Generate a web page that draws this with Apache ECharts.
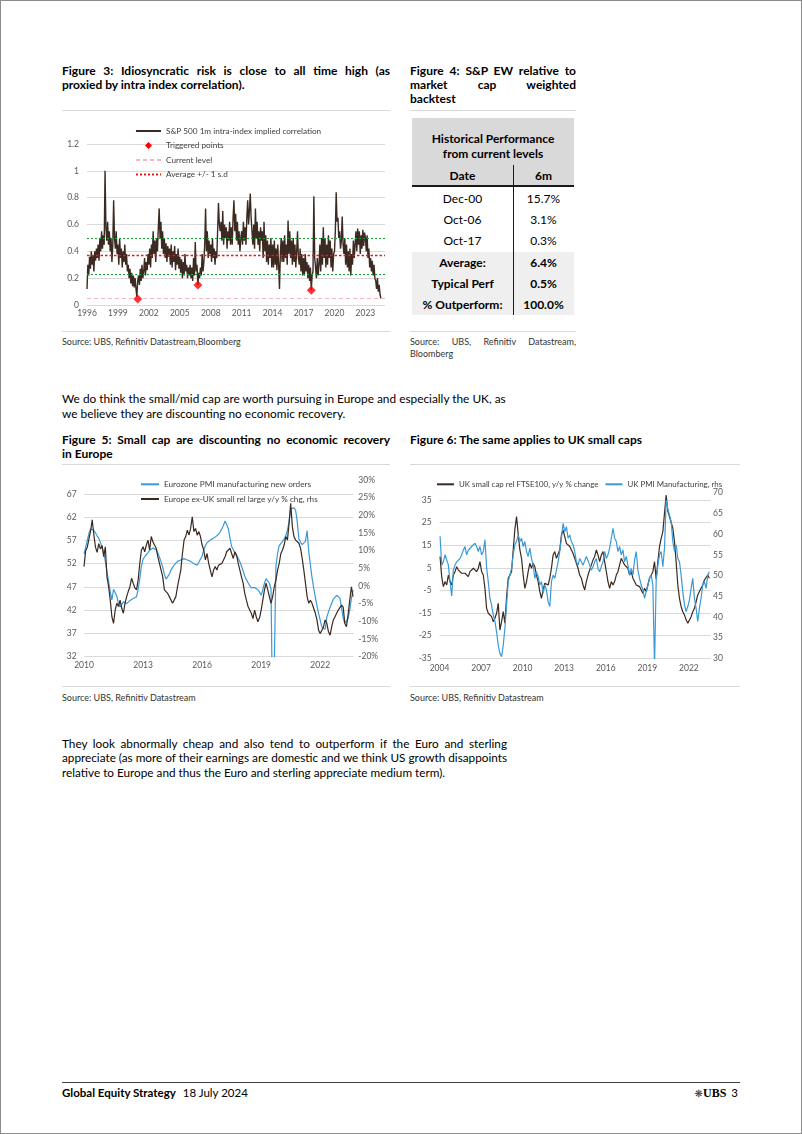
<!DOCTYPE html>
<html>
<head>
<meta charset="utf-8">
<script src="https://cdn.jsdelivr.net/npm/echarts@6/dist/echarts.min.js"></script>
<style>
html,body{margin:0;padding:0;background:#fff;}
#page{position:relative;width:802px;height:1134px;overflow:hidden;font-family:Lato,'Open Sans',sans-serif;color:#000;}
.abs{position:absolute;}
.line{white-space:nowrap;}
.just{text-align:justify;text-align-last:justify;white-space:normal;}
.t{font-weight:700;font-size:12px;line-height:14px;}
.rule{position:absolute;height:0;border-top:1px solid #d9d9d9;}
.src{font-size:9px;line-height:11.6px;color:#333;}
.p{font-size:11.75px;}
.chart{position:absolute;}
.cell{position:absolute;text-align:center;font-size:12px;white-space:nowrap;}
</style>
</head>
<body>
<div id="page">
  <div class="abs" style="left:0;top:0;width:800px;height:1132px;border:1px solid #8c8c8c;"></div>

  <!-- Figure 3 -->
  <div class="abs t" style="left:62px;top:64px;width:328px;">
    <div class="just">Figure 3: Idiosyncratic risk is close to all time high (as</div>
    <div class="line">proxied by intra index correlation).</div>
  </div>
  <div class="rule" style="left:62px;top:110px;width:328px;"></div>
  <div id="c3" class="chart" style="left:62px;top:114px;width:330px;height:216px;"></div>
  <div class="rule" style="left:62px;top:331px;width:328px;"></div>
  <div class="abs src line" style="left:62px;top:336px;">Source: UBS, Refinitiv Datastream,Bloomberg</div>

  <!-- Figure 4 -->
  <div class="abs t" style="left:410px;top:64px;width:166px;">
    <div class="just">Figure 4: S&amp;P EW relative to</div>
    <div class="just">market cap weighted</div>
    <div class="line">backtest</div>
  </div>
  <div class="rule" style="left:410px;top:110px;width:166px;"></div>
  <div id="tbl"></div>
  <div class="rule" style="left:410px;top:331px;width:166px;"></div>
  <div class="abs src" style="left:410px;top:336px;width:166px;">
    <div class="just">Source: UBS, Refinitiv Datastream,</div>
    <div class="line">Bloomberg</div>
  </div>

  <!-- Paragraph 1 -->
  <div class="abs p" style="left:62px;top:391px;line-height:15px;font-size:11.85px;">
    <div class="line">We do think the small/mid cap are worth pursuing in Europe and especially the UK, as</div>
    <div class="line">we believe they are discounting no economic recovery.</div>
  </div>

  <!-- Figure 5 -->
  <div class="abs t" style="left:62px;top:433px;width:328px;">
    <div class="just">Figure 5: Small cap are discounting no economic recovery</div>
    <div class="line">in Europe</div>
  </div>
  <div class="rule" style="left:62px;top:464px;width:328px;"></div>
  <div id="c5" class="chart" style="left:62px;top:466px;width:330px;height:218px;"></div>
  <div class="rule" style="left:62px;top:686px;width:328px;"></div>
  <div class="abs src line" style="left:62px;top:692px;">Source: UBS, Refinitiv Datastream</div>

  <!-- Figure 6 -->
  <div class="abs t line" style="left:410px;top:433px;">Figure 6: The same applies to UK small caps</div>
  <div class="rule" style="left:410px;top:464px;width:330px;"></div>
  <div id="c6" class="chart" style="left:410px;top:466px;width:332px;height:218px;"></div>
  <div class="rule" style="left:410px;top:686px;width:330px;"></div>
  <div class="abs src line" style="left:410px;top:692px;">Source: UBS, Refinitiv Datastream</div>

  <!-- Paragraph 2 -->
  <div class="abs p" style="left:62px;top:736.5px;width:445px;line-height:14.7px;">
    <div class="just">They look abnormally cheap and also tend to outperform if the Euro and sterling</div>
    <div class="just">appreciate (as more of their earnings are domestic and we think US growth disappoints</div>
    <div class="line">relative to Europe and thus the Euro and sterling appreciate medium term).</div>
  </div>

  <!-- Footer -->
  <div class="abs" style="left:62px;top:1082px;width:678px;height:0;border-top:1px solid #404040;"></div>
  <div class="abs line" style="left:62px;top:1086px;line-height:14px;font-size:11.5px;">
    <span style="font-weight:700;">Global Equity Strategy</span><span style="margin-left:7px;">18 July 2024</span>
  </div>
  <div class="abs line" style="right:64px;top:1086px;line-height:14px;font-size:11.5px;text-align:right;">
    <span style="font-family:'DejaVu Sans';font-size:10px;color:#333;">❋</span><span style="font-family:'Liberation Serif';font-weight:700;font-size:12px;">UBS</span><span style="margin-left:5px;">3</span>
  </div>
</div>

<script>
// ---------------- Figure 3 data ----------------
const corrStartYear = 1996;
const corrAxisSpan = 28.9;       // axis length in years from 1996
const corrLabel = 'S&P 500 1m intra-index implied correlation';
// monthly readings, one row per year (1996 ... 2024)
const corrValues = [
  0.12,0.30,0.22,0.36,0.27,0.40,0.30,0.37,0.25,0.40,0.33,0.42,
  0.35,0.45,0.33,0.50,0.40,0.55,0.42,0.52,0.45,1.00,0.58,0.48,
  0.62,0.45,0.55,0.40,0.50,0.32,0.45,0.78,0.50,0.42,0.55,0.38,
  0.45,0.30,0.50,0.35,0.42,0.28,0.40,0.32,0.45,0.30,0.38,0.25,
  0.30,0.20,0.27,0.16,0.24,0.14,0.22,0.13,0.20,0.12,0.06,0.18,
  0.22,0.15,0.27,0.18,0.30,0.20,0.25,0.35,0.22,0.32,0.26,0.38,
  0.30,0.42,0.28,0.45,0.35,0.55,0.38,0.48,0.32,0.50,0.40,0.58,
  0.72,0.50,0.62,0.42,0.55,0.38,0.50,0.35,0.46,0.32,0.44,0.36,
  0.42,0.30,0.45,0.28,0.40,0.32,0.44,0.26,0.38,0.30,0.42,0.27,
  0.36,0.24,0.34,0.20,0.32,0.22,0.38,0.25,0.30,0.20,0.28,0.22,
  0.30,0.20,0.28,0.18,0.35,0.22,0.47,0.25,0.30,0.15,0.24,0.20,
  0.28,0.22,0.38,0.25,0.32,0.45,0.72,0.40,0.55,0.35,0.48,0.38,
  0.45,0.32,0.50,0.35,0.42,0.30,0.40,0.35,0.55,0.76,0.60,0.55,
  0.62,0.48,0.70,0.45,0.60,0.50,0.58,0.42,0.55,0.48,0.62,0.45,
  0.58,0.45,0.65,0.78,0.55,0.68,0.48,0.62,0.45,0.55,0.40,0.50,
  0.55,0.45,0.62,0.48,0.58,0.45,0.65,0.78,0.60,0.70,0.83,0.65,
  0.55,0.45,0.60,0.42,0.72,0.50,0.62,0.45,0.55,0.40,0.58,0.48,
  0.55,0.35,0.62,0.40,0.52,0.32,0.48,0.30,0.45,0.35,0.50,0.28,
  0.45,0.28,0.48,0.30,0.42,0.26,0.45,0.30,0.12,0.38,0.50,0.32,
  0.48,0.32,0.52,0.35,0.45,0.30,0.63,0.38,0.55,0.35,0.48,0.30,
  0.50,0.32,0.45,0.28,0.40,0.55,0.35,0.30,0.42,0.25,0.38,0.22,
  0.35,0.22,0.38,0.25,0.32,0.20,0.30,0.18,0.28,0.11,0.22,0.25,
  0.81,0.35,0.28,0.20,0.35,0.22,0.30,0.45,0.25,0.50,0.30,0.58,
  0.35,0.50,0.28,0.45,0.30,0.52,0.35,0.48,0.28,0.42,0.25,0.38,
  0.40,0.55,0.84,0.62,0.65,0.50,0.55,0.42,0.48,0.66,0.45,0.38,
  0.50,0.30,0.45,0.28,0.40,0.25,0.42,0.22,0.38,0.30,0.48,0.35,
  0.45,0.55,0.40,0.57,0.45,0.55,0.38,0.52,0.42,0.56,0.44,0.54,
  0.50,0.40,0.52,0.35,0.42,0.28,0.35,0.25,0.33,0.22,0.30,0.20,
  0.18,0.12,0.20,0.10,0.15,0.08,0.05
];
const triggerDates = [2000.92, 2006.75, 2017.75];
const triggerValues = [0.045, 0.15, 0.11];
const currentLevel = 0.05;
const averageLevel = 0.37;
const sdUpper = 0.50;
const sdLower = 0.235;

// ---------------- Figure 4 data ----------------
const tableTitle = ['Historical Performance', 'from current levels'];
const tableHeader = ['Date', '6m'];
const perfDates = ['Dec-00', 'Oct-06', 'Oct-17'];
const perf6m = ['15.7%', '3.1%', '0.3%'];
const summaryLabels = ['Average:', 'Typical Perf', '% Outperform:'];
const summaryValues = ['6.4%', '0.5%', '100.0%'];

// ---------------- Figure 5 data ----------------
const fig5StartYear = 2010;
const fig5AxisSpan = 13.68;
const fig5PmiBase = 32;   // bottom of the left axis
const fig5PmiName = 'Eurozone PMI manufacturing new orders';
const fig5RelName = 'Europe ex-UK small rel large y/y % chg, rhs';
// monthly, Jan 2010 onwards
const ezPmiNewOrders = [
  54.1,55.5,57,58.5,59.5,59.7,59.2,58.6,58,57.5,56.6,55.5,
  54.5,52.5,50.3,48.2,46,44.2,46.5,46.8,45,43.4,42.7,43.2,
  43.8,43.6,43.4,43.8,44.1,44.3,44.5,44.7,44.9,46.5,48.8,51.5,
  53,53.5,53.8,54.4,54.9,55.3,55.4,55.4,55,54.3,53.4,52.4,
  51.2,49.7,48.7,48.8,49.7,50.6,51.2,51.7,52.1,52.5,52.7,52.8,
  53,53.1,53,52.8,52.6,52.5,52.3,52,51.8,51.7,52.3,53,
  53.6,55,55.9,56.5,56.9,57.1,57.3,57.5,57.7,58,58.4,58.8,
  59.1,60.2,61.2,60.8,59.5,57.5,55.7,55,54.2,53.7,53.2,52.4,
  51.5,50.4,49.3,48.6,47.9,47.3,46.8,46.7,46.9,46.8,46.4,45.9,
  45.2,46.4,47.8,48.8,48.6,47.8,46.5,18,30,51.5,54.2,55.9,
  56.3,56.8,57.3,58,59.2,61,63.8,64.1,64,63.5,61,57.3,
  56.6,56.1,56.3,56.8,59.1,54.6,51.8,49,46.8,44.8,43,41.3,
  39.8,38.4,38,37.9,40.5,41.6,42.6,43.5,44.4,44.8,45.2,45,
  44.6,42.5,40.3,39.2,39.1,40.2,42.1,44.5,46.3
];
const euSmallRelLarge = [
  5.5,10,11,11.5,15.5,18.7,14.5,11,9.5,12,10.5,11.5,
  8.3,11.1,2.6,-0.2,-4,-8.7,-10.6,-6.8,-4.9,-5.8,-4,-6.3,
  -7.7,-4.9,-3,-1.5,-0.2,2.2,0.8,-0.5,-1.1,1.7,6.4,10.2,
  11.1,9.7,11.6,13,10.2,14,12.5,11.6,10.7,8.3,6.4,4.5,
  2.6,-1.1,-1.6,-2.1,-3,-2.5,-4.9,-5.4,-3,-0.2,0.3,4.5,
  9.2,13,14,15.8,14.4,16.3,19.6,15.4,16.3,14.4,15.4,14,
  11.6,10.2,7.4,9.2,6.4,4.5,2.6,4.5,5.5,4.5,5.9,5.5,
  6.4,6.9,8.3,9.7,10.2,10.7,9.2,7.8,9.7,8.8,6.4,4.5,
  2.6,0.8,-2.1,-4,-5.8,-6.8,-7.7,-9.2,-6.8,-8.7,-10.1,-9,
  -6.8,-4,-1.1,0.8,-1.1,-3,-4.9,-3,-0.2,1.7,4.5,6.4,
  9.2,10.2,11.6,14,13,17.7,23.4,16.8,14,13,13.5,12.1,
  10.7,7.8,4.5,0.8,-3,-4.9,-4,-4.9,-6.3,-7.7,-9.6,-12.5,
  -13.4,-12.5,-11.5,-9.6,-10.5,-12.9,-13.9,-11.5,-9.6,-8.7,-7.7,-6.8,
  -6.3,-5.4,-6,-10.6,-11.5,-8,-4,-0.2,-3
];

// ---------------- Figure 6 data ----------------
const fig6StartYear = 2004;
const fig6AxisSpan = 19.56;
const fig6FirstObs = 0.04;   // years after 2004 of first reading
const fig6Step = 0.12;       // years between readings
const fig6RelBase = -35;     // bottom of the left axis
const fig6RelName = 'UK small cap rel FTSE100, y/y % change';
const fig6PmiName = 'UK PMI Manufacturing, rhs';
const ukSmallRelFtse = [
  10,1,-3.3,-1.1,-2.6,1.8,-1.1,-2.6,1.8,3.3,
  5.5,4,3.3,2.6,3.3,2.6,1.8,1.1,3.3,3.3,
  4.8,5.5,3.3,4.8,7.7,3.3,1.8,-4.1,-12.9,-15.1,
  -15.8,-16.6,-18.8,-17.3,-15.1,-10.7,-22.5,-18.8,-14.4,-19.5,
  -8,0.4,1.1,3.3,12.9,22,27.6,20,13,9.2,
  1.8,-4.1,-1.1,3.3,7,4.8,7,5.5,1.8,-1.1,
  -5.5,-8.5,-4.8,-1.8,-1.1,-2.6,0.4,4.8,10.7,12.2,
  9.2,8.5,12.9,19.5,21.7,18.8,15.8,16.6,14.4,12.9,
  11.4,9.2,7,4.8,1.8,0.4,-2.6,-4.8,-1.1,1.8,
  4.1,6.3,8.5,10,12.9,10.7,7.7,10.7,12.2,7.7,
  3.3,-1.1,-4.1,-1.1,-2.6,-1.1,1.8,3.3,6.3,9.2,
  7.7,6.3,5.5,4.8,1.8,3.3,0.4,-1.1,-2.6,-1.8,
  -3.3,-4.8,-6.3,-4.1,-5.5,-2.6,0.4,1.8,3.3,7.7,
  0,7.7,14.4,18,21,21.7,37.2,30,27.6,26.9,
  22.5,16.6,7.7,-2.6,-8.5,-12.2,-14.4,-15.8,-18,-19.5,
  -18.8,-16.6,-14.4,-12.9,-10,-7,-5.5,-4.8,-2.6,-0.4,
  0.4,1.8,0.4
];
const ukPmiManufacturing = [
  59.5,52.5,53.3,55,54.6,52.5,48.5,45,51.3,52.5,
  53.3,53.7,54.1,55,56.1,57,55,56.1,55.8,57,
  57.4,57.8,57,55.8,57,55,55.8,58.6,52,48.5,
  44.5,42.9,40.5,38.9,36.4,33.2,31.2,30.4,33.2,37.2,
  42.9,48.5,50.1,51.7,55,57.4,58.2,59.8,58.2,59,
  57,58.2,55.8,54.6,56.6,54.1,52.5,49.3,50.9,49.7,
  47.7,48.5,45.7,47.7,46.5,43.7,42.5,48.5,50.1,49.3,
  51.3,53.3,55.8,59,62.6,60.6,61.8,59,59.8,58.2,
  57.4,55.8,53.3,52.5,54.1,53.3,52.5,52.9,54.6,55,
  52.5,51.3,52.1,53.3,54.1,51.7,50.9,51.3,53.3,55.8,
  54.1,55,56.6,59,61.4,59,58.2,55.8,57,55,
  56.2,53.3,54.6,52.5,50.1,51.7,50.1,53.7,55.8,51.3,
  49.3,47.7,46.5,44.5,46.1,47.7,49.3,50.1,47.7,28,
  49,52.5,55,55.8,52.1,56.6,68.2,66,64.6,63,
  58.2,55.8,57.4,54.1,53.3,50.1,46.1,42.9,41.3,42.5,
  44.1,46.9,49.3,44.5,42.1,38.9,42.1,44.5,47.7,48.5,
  46.9,50.1,50.9
];

// ---------------- shared styles ----------------
const FONT = 'Lato';
const BROWN = '#3a2a21';
const BLUE = '#3b9ad6';
const GRID = '#d9d9d9';
const RED = '#f01414';
const GREEN = '#1f9e3a';
const PINK = '#f2b8c6';
const LABEL = {color:'#595959', fontSize:8.5, fontFamily:FONT};
const LEG_TEXT = {color:'#404040', fontSize:8.2, fontFamily:FONT};
const HIDE_SYMBOL = {opacity:0};
// legend icon: a 7x7 diamond centred in a 25x7 box (degenerate sub-paths fix the box width)
const DIAMOND_ICON = 'path://M0,3.5L0.01,3.5Z M9,3.5L12.5,0L16,3.5L12.5,7Z M24.99,3.5L25,3.5Z';

// ---------------- Figure 4 table ----------------
(function buildTable(){
  const root = document.getElementById('tbl');
  const L = 412, R = 574, DIV = 513;
  const add = (html) => root.insertAdjacentHTML('beforeend', html);
  add(`<div class="abs" style="left:${L}px;top:118px;width:${R-L}px;height:67px;background:#d9d9d9;"></div>`);
  add(`<div class="abs" style="left:${L}px;top:251.5px;width:${R-L}px;height:63px;background:#efefef;"></div>`);
  tableTitle.forEach((s,i)=>add(`<div class="cell" style="left:${L}px;width:${R-L}px;top:${130.5+i*15.7}px;line-height:15.7px;font-weight:700;">${s}</div>`));
  add(`<div class="cell" style="left:${L}px;width:${DIV-L}px;top:167.7px;line-height:16px;font-weight:700;">${tableHeader[0]}</div>`);
  add(`<div class="cell" style="left:${DIV}px;width:${R-DIV}px;top:167.7px;line-height:16px;font-weight:700;">${tableHeader[1]}</div>`);
  add(`<div class="abs" style="left:${L}px;top:185px;width:${R-L}px;height:1.5px;background:#1a1a1a;"></div>`);
  add(`<div class="abs" style="left:${DIV-0.5}px;top:165px;width:1.5px;height:150px;background:#1a1a1a;"></div>`);
  perfDates.forEach((d,i)=>{
    add(`<div class="cell" style="left:${L}px;width:${DIV-L}px;top:${187.8+i*21}px;line-height:21px;">${d}</div>`);
    add(`<div class="cell" style="left:${DIV}px;width:${R-DIV}px;top:${187.8+i*21}px;line-height:21px;">${perf6m[i]}</div>`);
  });
  summaryLabels.forEach((d,i)=>{
    add(`<div class="cell" style="left:${L}px;width:${DIV-L}px;top:${251.8+i*21}px;line-height:21px;font-weight:700;">${d}</div>`);
    add(`<div class="cell" style="left:${DIV}px;width:${R-DIV}px;top:${251.8+i*21}px;line-height:21px;font-weight:700;">${summaryValues[i]}</div>`);
  });
})();

// ---------------- Figure 3 chart ----------------
const c3 = echarts.init(document.getElementById('c3'), null, {renderer:'canvas'});
c3.setOption({
  animation:false,
  textStyle:{fontFamily:FONT},
  grid:{left:25, right:7, top:30, bottom:25, outerBoundsMode:'none'},
  legend:{
    orient:'vertical', left:73, top:13, padding:0, itemWidth:25, itemHeight:7, itemGap:6.5,
    textStyle:LEG_TEXT, selectedMode:false, itemStyle:HIDE_SYMBOL,
    data:[{name:corrLabel},{name:'Triggered points', icon:DIAMOND_ICON, itemStyle:{opacity:1}},{name:'Current level'},{name:'Average +/- 1 s.d'}]
  },
  xAxis:{type:'value', min:0, max:corrAxisSpan, interval:3,
    axisLine:{show:false}, axisTick:{show:false}, splitLine:{show:false},
    axisLabel:Object.assign({}, LABEL, {margin:4, showMaxLabel:false, formatter:v=>String(corrStartYear+v)})},
  yAxis:{type:'value', min:0, max:1.2, interval:0.2,
    axisLine:{show:false}, axisTick:{show:false},
    splitLine:{lineStyle:{color:GRID, width:1}},
    axisLabel:Object.assign({}, LABEL, {margin:8})},
  series:[
    {name:corrLabel, type:'line', symbol:'none', data:corrValues.map((v,i)=>[i/12, v]),
     lineStyle:{color:BROWN, width:1.4}, itemStyle:{color:BROWN}, emphasis:{disabled:true}, z:2},
    {name:'Current level', type:'line', symbol:'none', data:[],
     lineStyle:{color:PINK, width:1, type:[4,3]}, itemStyle:{color:PINK},
     markLine:{silent:true, symbol:'none', label:{show:false}, lineStyle:{color:PINK, width:1, type:[4,3]},
       data:[{yAxis:currentLevel, lineStyle:{color:PINK, width:1, type:[4,3]}}]}, z:3},
    {name:'Average +/- 1 s.d', type:'line', symbol:'none', data:[],
     lineStyle:{color:RED, width:1.2, type:[2,2]}, itemStyle:{color:RED},
     markLine:{silent:true, symbol:'none', label:{show:false}, lineStyle:{color:RED, width:1.2, type:[2,2]},
       data:[{yAxis:averageLevel, lineStyle:{color:RED, width:1.3, type:[2.5,2]}},
             {yAxis:sdUpper, lineStyle:{color:GREEN, width:1.1, type:[2,2]}},
             {yAxis:sdLower, lineStyle:{color:GREEN, width:1.1, type:[2,2]}}]}, z:4},
    {name:'Triggered points', type:'scatter', symbol:'diamond', symbolSize:9,
     data:triggerDates.map((d,i)=>[d-corrStartYear, triggerValues[i]]),
     itemStyle:{color:'#ff0000'}, emphasis:{disabled:true}, z:5}
  ]
});

// ---------------- Figure 5 chart ----------------
const c5 = echarts.init(document.getElementById('c5'), null, {renderer:'canvas'});
c5.setOption({
  animation:false,
  textStyle:{fontFamily:FONT},
  grid:{left:22, right:38.7, top:14, bottom:27.3, outerBoundsMode:'none'},
  legend:{
    orient:'vertical', left:78, top:14.3, padding:0, itemWidth:18, itemHeight:8, itemGap:6.7,
    textStyle:LEG_TEXT, selectedMode:false, itemStyle:HIDE_SYMBOL,
    data:[{name:fig5PmiName},{name:fig5RelName}]
  },
  xAxis:{type:'value', min:0, max:fig5AxisSpan, interval:3,
    axisLine:{show:false}, axisTick:{show:false}, splitLine:{show:false},
    axisLabel:Object.assign({}, LABEL, {margin:4, showMaxLabel:false, formatter:v=>String(fig5StartYear+v)})},
  yAxis:[
    {type:'value', min:0, max:70-fig5PmiBase, interval:5, position:'left',
     axisLine:{show:false}, axisTick:{show:false},
     splitLine:{lineStyle:{color:GRID, width:1}, showMaxLine:false},
     axisLabel:Object.assign({}, LABEL, {margin:7.3, showMaxLabel:false, formatter:v=>String(v+fig5PmiBase)})},
    {type:'value', min:-20, max:30, interval:5, position:'right',
     axisLine:{show:false}, axisTick:{show:false}, splitLine:{show:false},
     axisLabel:Object.assign({}, LABEL, {margin:5, formatter:v=>v+'%'})}
  ],
  series:[
    {name:fig5PmiName, type:'line', symbol:'none', yAxisIndex:0,
     data:ezPmiNewOrders.map((v,i)=>[i/12, v-fig5PmiBase]),
     lineStyle:{color:BLUE, width:1.2}, itemStyle:{color:BLUE}, emphasis:{disabled:true}},
    {name:fig5RelName, type:'line', symbol:'none', yAxisIndex:1,
     data:euSmallRelLarge.map((v,i)=>[i/12, v]),
     lineStyle:{color:BROWN, width:1.2}, itemStyle:{color:BROWN}, emphasis:{disabled:true}}
  ]
});

// ---------------- Figure 6 chart ----------------
const c6 = echarts.init(document.getElementById('c6'), null, {renderer:'canvas'});
c6.setOption({
  animation:false,
  textStyle:{fontFamily:FONT},
  grid:{left:29.5, right:31.5, top:26.7, bottom:25.7, outerBoundsMode:'none'},
  legend:{
    orient:'horizontal', left:26, top:14.3, width:305, padding:0, itemWidth:17, itemHeight:8, itemGap:6,
    textStyle:Object.assign({}, LEG_TEXT, {fontSize:7.9}), selectedMode:false, itemStyle:HIDE_SYMBOL,
    data:[{name:fig6RelName},{name:fig6PmiName}]
  },
  xAxis:{type:'value', min:0, max:fig6AxisSpan, interval:3,
    axisLine:{show:false}, axisTick:{show:false}, splitLine:{show:false},
    axisLabel:Object.assign({}, LABEL, {margin:5, showMaxLabel:false, formatter:v=>String(fig6StartYear+v)})},
  yAxis:[
    {type:'value', min:0, max:38.2-fig6RelBase, interval:10, position:'left',
     axisLine:{show:false}, axisTick:{show:false},
     splitLine:{lineStyle:{color:GRID, width:1}, showMaxLine:false},
     axisLabel:Object.assign({}, LABEL, {margin:7.8, showMaxLabel:false, formatter:v=>String(v+fig6RelBase)})},
    {type:'value', min:30, max:70, interval:5, position:'right',
     axisLine:{show:false}, axisTick:{show:false}, splitLine:{show:false},
     axisLabel:Object.assign({}, LABEL, {margin:2.5})}
  ],
  series:[
    {name:fig6RelName, type:'line', symbol:'none', yAxisIndex:0,
     data:ukSmallRelFtse.map((v,i)=>[fig6FirstObs+i*fig6Step, v-fig6RelBase]),
     lineStyle:{color:BROWN, width:1.2}, itemStyle:{color:BROWN}, emphasis:{disabled:true}},
    {name:fig6PmiName, type:'line', symbol:'none', yAxisIndex:1,
     data:ukPmiManufacturing.map((v,i)=>[fig6FirstObs+i*fig6Step, v]),
     lineStyle:{color:BLUE, width:1.2}, itemStyle:{color:BLUE}, emphasis:{disabled:true}}
  ]
});
</script>
</body>
</html>
